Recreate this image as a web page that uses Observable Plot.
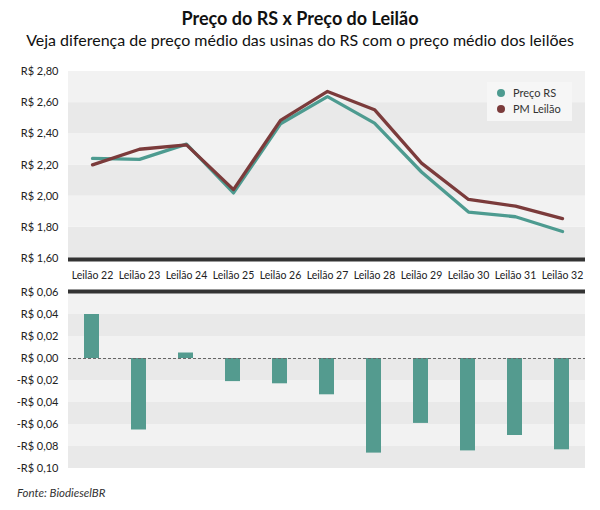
<!DOCTYPE html>
<html><head><meta charset="utf-8">
<script src="https://cdn.jsdelivr.net/npm/d3@7"></script>
<script src="https://cdn.jsdelivr.net/npm/@observablehq/plot@0.6"></script>
<style>
body{margin:0;background:#fff;font-family:Lato,sans-serif;color:#222;}
#wrap{position:relative;width:600px;height:510px;overflow:hidden;}
#title{position:absolute;top:9px;left:0;width:600px;text-align:center;font-size:18px;font-weight:bold;line-height:1;color:#111;}
#subtitle{position:absolute;top:32px;left:0;width:600px;text-align:center;font-size:16px;line-height:1;color:#111;}
#top{position:absolute;top:58px;left:0;}
#bottom{position:absolute;top:283px;left:0;}
#legend{position:absolute;left:487px;top:82px;width:85px;height:39px;background:#f6f6f6;font-size:11px;color:#333;}
.item{position:absolute;left:0;height:16px;line-height:16px;white-space:nowrap;}
.dot{position:absolute;left:10px;top:4px;width:8px;height:8px;border-radius:50%;}
.lbl{position:absolute;left:26px;top:0;}
#caption{position:absolute;left:17px;top:487px;font-size:11.5px;font-style:italic;line-height:1;color:#333;}
</style>
</head><body>
<div id="wrap">
<div id="title">Preço do RS x Preço do Leilão</div>
<div id="subtitle">Veja diferença de preço médio das usinas do RS com o preço médio dos leilões</div>
<div id="top"></div>
<div id="bottom"></div>
<div id="legend"></div>
<div id="caption">Fonte: BiodieselBR</div>
</div>
<script>
const leiloes = ["Leilão 22","Leilão 23","Leilão 24","Leilão 25","Leilão 26","Leilão 27","Leilão 28","Leilão 29","Leilão 30","Leilão 31","Leilão 32"];
const series = ["Preço RS","PM Leilão"];
const precoRS  = [2.242, 2.236, 2.334, 2.021, 2.465, 2.639, 2.469, 2.155, 1.898, 1.868, 1.773];
const pmLeilao = [2.201, 2.301, 2.329, 2.042, 2.486, 2.672, 2.555, 2.212, 1.979, 1.936, 1.856];
const diferenca = [0.040, -0.065, 0.005, -0.021, -0.023, -0.033, -0.086, -0.059, -0.084, -0.070, -0.083];
const topTicks = [1.6, 1.8, 2.0, 2.2, 2.4, 2.6, 2.8];
const bottomTicks = [-0.10, -0.08, -0.06, -0.04, -0.02, 0.00, 0.02, 0.04, 0.06];
const seriesColors = ["#4d9b90", "#7b3b3b"];
const barColor = "#549b8f";
const bandColors = ["#e9e9e9", "#f2f2f2"];

const fmt = v => (v < -1e-9 ? "-" : "") + "R$ " + Math.abs(v).toFixed(2).replace(".", ",");

const rows = series.flatMap((s, k) => leiloes.map((l, i) => ({leilao: l, serie: s, valor: (k === 0 ? precoRS : pmLeilao)[i]})));
const bandsTop = d3.pairs(topTicks).map(([a, b], i) => ({y1: a, y2: b, i}));
const bandsBottom = d3.pairs(bottomTicks).map(([a, b], i) => ({y1: a, y2: b, i}));
const difRows = leiloes.map((l, i) => ({leilao: l, dif: diferenca[i]}));

const style = {fontFamily: "Lato, sans-serif", fontSize: "11px", color: "#222", background: "transparent"};

const topChart = Plot.plot({
  width: 600, height: 225,
  marginLeft: 68, marginRight: 15, marginTop: 13, marginBottom: 25,
  style,
  x: {type: "point", domain: leiloes, padding: 0.5, label: null, axis: null},
  y: {domain: [1.6, 2.8], label: null, axis: null},
  color: {domain: series, range: seriesColors},
  marks: [
    Plot.rect(bandsTop, {y1: "y1", y2: "y2", fill: d => bandColors[d.i % 2]}),
    Plot.line(rows, {x: "leilao", y: "valor", z: "serie", stroke: "serie", strokeWidth: 3.3}),
    Plot.ruleY([1.6], {stroke: "#333", strokeWidth: 4, dy: 1}),
    Plot.axisY({ticks: topTicks, tickSize: 0, tickPadding: 10, tickFormat: fmt, fontSize: 11, label: null}),
    Plot.axisX({tickSize: 0, tickPadding: 13, fontSize: 10.5, label: null})
  ]
});
document.getElementById("top").appendChild(topChart);

const bottomChart = Plot.plot({
  width: 600, height: 195,
  marginLeft: 68, marginRight: 15, marginTop: 9, marginBottom: 10,
  style,
  x: {type: "band", domain: leiloes, paddingInner: 0.68, paddingOuter: 0.34, axis: null},
  y: {domain: [-0.10, 0.06], label: null, axis: null},
  marks: [
    Plot.rect(bandsBottom, {y1: "y1", y2: "y2", fill: d => bandColors[d.i % 2]}),
    Plot.barY(difRows, {x: "leilao", y: "dif", fill: barColor}),
    Plot.ruleY([0], {stroke: "#666", strokeWidth: 1, strokeDasharray: "3,2"}),
    Plot.ruleY([0.06], {stroke: "#333", strokeWidth: 4, dy: -1}),
    Plot.axisY({ticks: bottomTicks, tickSize: 0, tickPadding: 10, tickFormat: fmt, fontSize: 11, label: null})
  ]
});
document.getElementById("bottom").appendChild(bottomChart);

const legend = document.getElementById("legend");
series.forEach((s, k) => {
  const item = document.createElement("div");
  item.className = "item";
  item.style.top = (3 + k * 16) + "px";
  item.innerHTML = `<span class="dot" style="background:${seriesColors[k]}"></span><span class="lbl">${s}</span>`;
  legend.appendChild(item);
});
</script>
</body></html>
